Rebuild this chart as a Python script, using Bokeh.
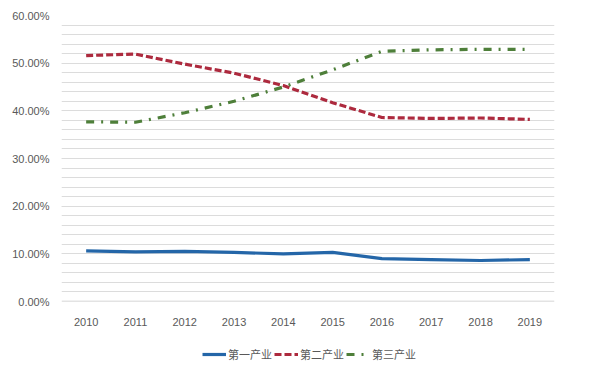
from bokeh.plotting import figure
from bokeh.layouts import column
from bokeh.models import (Range1d, FactorRange, SingleIntervalTicker, PrintfTickFormatter,
                          Legend, LegendItem, Span)
from bokeh.embed import file_html
from bokeh.resources import INLINE

years = ["2010", "2011", "2012", "2013", "2014", "2015", "2016", "2017", "2018", "2019"]
primary = [10.6, 10.4, 10.5, 10.3, 10.0, 10.3, 9.0, 8.8, 8.6, 8.8]
secondary = [51.6, 51.9, 49.8, 47.9, 45.3, 41.7, 38.6, 38.4, 38.5, 38.2]
tertiary = [37.7, 37.6, 39.6, 42.0, 45.0, 48.6, 52.5, 52.8, 52.9, 52.9]
names = ["第一产业", "第二产业", "第三产业"]
colors = ["#2466a8", "#ad2a3e", "#4e7f3a"]
dashes = ["solid", "7 3", "8 7 2 7"]

p = figure(width=594, height=328, frame_width=493, frame_height=286,
           x_range=FactorRange(*years), y_range=Range1d(0, 60),
           output_backend="svg", toolbar_location=None,
           min_border_left=61, min_border_right=40, min_border_top=15, min_border_bottom=0)
p.outline_line_color = None
p.background_fill_color = "white"

for vals, c, d in zip([primary, secondary, tertiary], colors, dashes):
    p.line(years, vals, line_color=c, line_width=3.2, line_dash=d)

p.yaxis.ticker = SingleIntervalTicker(interval=10, num_minor_ticks=5)
p.yaxis.formatter = PrintfTickFormatter(format="%.2f%%")
for ax in (p.xaxis[0], p.yaxis[0]):
    ax.axis_line_color = None
    ax.major_tick_line_color = None
    ax.minor_tick_line_color = None
    ax.major_label_text_color = "#595959"
    ax.major_label_text_font = "Liberation Sans"
    ax.major_label_text_font_size = "11px"
p.yaxis.major_label_standoff = 6
p.xaxis.major_label_standoff = 10

p.xgrid.grid_line_color = None
p.ygrid.grid_line_color = "#dcdcdc"
p.ygrid.minor_grid_line_color = "#dcdcdc"
p.ygrid.grid_line_width = 1
p.ygrid.minor_grid_line_width = 1

p.add_layout(Span(location=0, dimension="width", line_color="#c8c8c8", line_width=1.5))

# legend strip (series drawn out of view so only the legend shows)
q = figure(width=594, height=40, x_range=FactorRange(*years), y_range=Range1d(100, 101),
           output_backend="svg", toolbar_location=None,
           min_border_left=0, min_border_right=0, min_border_top=0, min_border_bottom=0)
q.axis.visible = False
q.grid.grid_line_color = None
q.outline_line_color = None
items = []
for vals, n, c, d in zip([primary, secondary, tertiary], names, colors, dashes):
    r = q.line(years, vals, line_color=c, line_width=3.2, line_dash=d)
    items.append(LegendItem(label=n, renderers=[r]))
legend = Legend(items=items, orientation="horizontal", location=(141, 4),
                label_text_font="Noto Sans CJK SC", label_text_font_size="11px",
                label_text_color="#595959", glyph_width=24, label_standoff=2,
                spacing=2, padding=0, margin=0, border_line_color=None,
                background_fill_alpha=0)
q.add_layout(legend, "center")

open("out.html", "w").write(file_html(column(p, q, spacing=0), INLINE))
